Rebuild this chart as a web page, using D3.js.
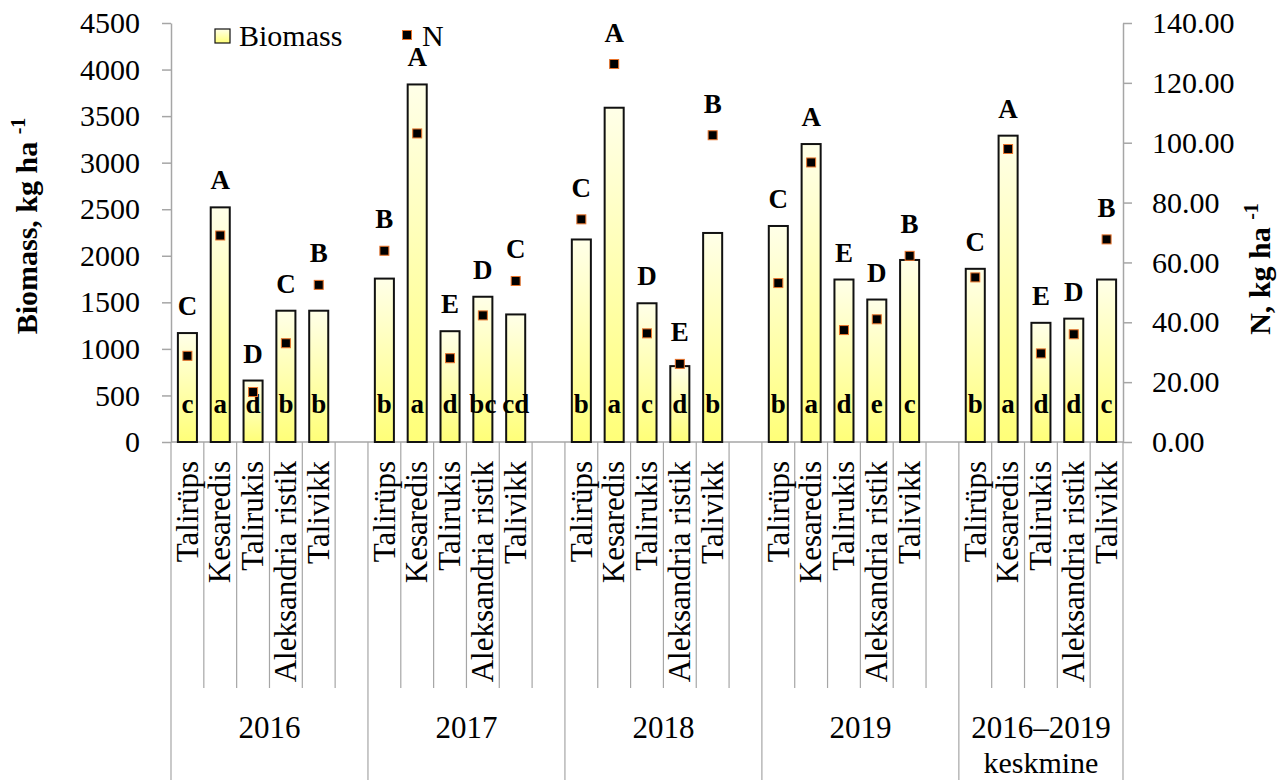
<!DOCTYPE html>
<html>
<head>
<meta charset="utf-8">
<script src="https://cdn.jsdelivr.net/npm/d3@7"></script>
<style>
    body { margin: 0; background: #fff; }
    svg text { font-family: "Liberation Serif", "Times New Roman", serif; fill: #000; }
</style>
</head>
<body>
<div id="chart"></div>
<script>
// Data
const groups = ['2016', '2017', '2018', '2019', '2016–2019'];
const groupSubLabels = ['', '', '', '', 'keskmine'];
const crops = ['Talirüps', 'Kesaredis', 'Talirukis', 'Aleksandria ristik', 'Talivikk'];

const biomass2016 = [1170, 2520, 660, 1410, 1410];
const biomass2017 = [1755, 3840, 1190, 1560, 1370];
const biomass2018 = [2175, 3590, 1490, 815, 2245];
const biomass2019 = [2320, 3200, 1745, 1530, 1955];
const biomassMean = [1860, 3290, 1280, 1325, 1745];

const n2016 = [28.8, 69.0, 16.7, 33.0, 52.5];
const n2017 = [63.9, 103.1, 28.0, 42.3, 53.8];
const n2018 = [74.4, 126.3, 36.3, 26.1, 102.5];
const n2019 = [53.1, 93.4, 37.4, 41.0, 62.2];
const nMean = [55.0, 97.9, 29.6, 36.0, 67.7];

const upperLetters = [
    ['C', 'A', 'D', 'C', 'B'],
    ['B', 'A', 'E', 'D', 'C'],
    ['C', 'A', 'D', 'E', 'B'],
    ['C', 'A', 'E', 'D', 'B'],
    ['C', 'A', 'E', 'D', 'B']
];
const lowerLetters = [
    ['c', 'a', 'd', 'b', 'b'],
    ['b', 'a', 'd', 'bc', 'cd'],
    ['b', 'a', 'c', 'd', 'b'],
    ['b', 'a', 'd', 'e', 'c'],
    ['b', 'a', 'd', 'd', 'c']
];

const biomassTicks = [0, 500, 1000, 1500, 2000, 2500, 3000, 3500, 4000, 4500];
const nTicks = [0, 20, 40, 60, 80, 100, 120, 140];

const biomassByGroup = [biomass2016, biomass2017, biomass2018, biomass2019, biomassMean];
const nByGroup = [n2016, n2017, n2018, n2019, nMean];

// Layout
const width = 1281, height = 780;
const plot = {left: 171, right: 1123, top: 23, bottom: 442};
const axisColor = '#a6a6a6';
const serif = '"Liberation Serif", "Times New Roman", serif';

// Build slots (5 crops per group, one empty slot between groups)
const slots = [];
const rows = [];
groups.forEach((g, gi) => {
    crops.forEach((c, ci) => {
        const key = gi + '-' + ci;
        slots.push(key);
        rows.push({
            key: key, group: gi, crop: c,
            biomass: biomassByGroup[gi][ci],
            n: nByGroup[gi][ci],
            upper: upperLetters[gi][ci],
            lower: lowerLetters[gi][ci]
        });
    });
    if (gi < groups.length - 1) slots.push(gi + '-gap');
});

const svg = d3.select('#chart')
    .append('svg')
    .attr('width', width)
    .attr('height', height)
    .style('font-family', serif);

const defs = svg.append('defs');
const grad = defs.append('linearGradient')
    .attr('id', 'barGrad')
    .attr('x1', 0).attr('y1', 0).attr('x2', 0).attr('y2', 1);
grad.append('stop').attr('offset', '0%').attr('stop-color', '#ffffe8');
grad.append('stop').attr('offset', '100%').attr('stop-color', '#ffff78');

const x = d3.scaleBand()
    .domain(slots)
    .range([plot.left, plot.right])
    .paddingInner(0)
    .paddingOuter(0);

const yLeft = d3.scaleLinear().domain([0, 4500]).range([plot.bottom, plot.top]);
const yRight = d3.scaleLinear().domain([0, 140]).range([plot.bottom, plot.top]);

const step = x.step();
const barW = step * 0.58;

// Left axis
const gLeft = svg.append('g')
    .attr('transform', `translate(${plot.left},0)`)
    .call(d3.axisLeft(yLeft).tickValues(biomassTicks).tickSize(9).tickSizeOuter(0).tickPadding(22)
        .tickFormat(d3.format('d')));

// Right axis
const gRight = svg.append('g')
    .attr('transform', `translate(${plot.right},0)`)
    .call(d3.axisRight(yRight).tickValues(nTicks).tickSize(9).tickSizeOuter(0).tickPadding(20)
        .tickFormat(d3.format('.2f')));

[gLeft, gRight].forEach(g => {
    g.attr('font-family', serif).attr('font-size', 30);
    g.selectAll('path, line').attr('stroke', axisColor).attr('stroke-width', 1.5);
    g.selectAll('text').attr('fill', '#000').style('font-family', serif).style('font-size', '30px');
});

// Bottom axis line
svg.append('line')
    .attr('x1', plot.left).attr('x2', plot.right)
    .attr('y1', plot.bottom).attr('y2', plot.bottom)
    .attr('stroke', axisColor).attr('stroke-width', 1.5);

// Category boundary lines
const groupStarts = groups.map((g, gi) => x(gi + '-0'));
const groupEnds = groups.map((g, gi) => gi < groups.length - 1 ? x(gi + '-gap') + step : plot.right);
const boundaries = slots.map(s => x(s)).concat([plot.right]);
svg.append('g')
    .selectAll('line')
    .data(boundaries)
    .enter()
    .append('line')
    .attr('x1', d => d).attr('x2', d => d)
    .attr('y1', plot.bottom)
    .attr('y2', d => (groupStarts.some(v => Math.abs(v - d) < 0.5) || Math.abs(d - plot.right) < 0.5) ? height : 688)
    .attr('stroke', axisColor)
    .attr('stroke-width', 1.2);

// Category labels
svg.append('g')
    .selectAll('text')
    .data(rows)
    .enter()
    .append('text')
    .attr('transform', d => `translate(${x(d.key) + step / 2},461) rotate(-90)`)
    .attr('text-anchor', 'end')
    .attr('dy', '0.33em')
    .style('font-size', '31px')
    .text(d => d.crop);

// Group labels
const gLabels = svg.append('g');
groups.forEach((g, gi) => {
    const cx = (groupStarts[gi] + groupEnds[gi]) / 2;
    gLabels.append('text')
        .attr('x', cx).attr('y', 738)
        .attr('text-anchor', 'middle')
        .style('font-size', '31px')
        .text(g);
    if (groupSubLabels[gi]) {
        gLabels.append('text')
            .attr('x', cx).attr('y', 773)
            .attr('text-anchor', 'middle')
            .style('font-size', '30px')
            .text(groupSubLabels[gi]);
    }
});

// Bars
svg.append('g')
    .selectAll('rect')
    .data(rows)
    .enter()
    .append('rect')
    .attr('x', d => x(d.key) + (step - barW) / 2)
    .attr('y', d => yLeft(d.biomass))
    .attr('width', barW)
    .attr('height', d => yLeft(0) - yLeft(d.biomass))
    .attr('fill', 'url(#barGrad)')
    .attr('stroke', '#111')
    .attr('stroke-width', 2);

// Lowercase letters inside bars
svg.append('g')
    .selectAll('text')
    .data(rows)
    .enter()
    .append('text')
    .attr('x', d => x(d.key) + step / 2)
    .attr('y', yLeft(0) - 29)
    .attr('text-anchor', 'middle')
    .style('font-size', '27px')
    .style('font-weight', 'bold')
    .text(d => d.lower);

// N markers
const mk = 9;
svg.append('g')
    .selectAll('rect')
    .data(rows)
    .enter()
    .append('rect')
    .attr('x', d => x(d.key) + step / 2 - mk / 2)
    .attr('y', d => yRight(d.n) - mk / 2)
    .attr('width', mk)
    .attr('height', mk)
    .attr('fill', '#000')
    .attr('stroke', '#e8732a')
    .attr('stroke-width', 1);

// Uppercase letters above bars / markers
svg.append('g')
    .selectAll('text')
    .data(rows)
    .enter()
    .append('text')
    .attr('x', d => x(d.key) + step / 2)
    .attr('y', d => Math.min(yLeft(d.biomass), yRight(d.n) - mk / 2) - 18)
    .attr('text-anchor', 'middle')
    .style('font-size', '27px')
    .style('font-weight', 'bold')
    .text(d => d.upper);

// Axis titles
const leftTitle = svg.append('text')
    .attr('transform', 'translate(37,226) rotate(-90)')
    .attr('text-anchor', 'middle')
    .style('font-size', '30px')
    .style('font-weight', 'bold');
leftTitle.append('tspan').text('Biomass, kg  ha ');
leftTitle.append('tspan').attr('dy', -12).style('font-size', '20px').text('-1');

const rightTitle = svg.append('text')
    .attr('transform', 'translate(1270,269) rotate(-90)')
    .attr('text-anchor', 'middle')
    .style('font-size', '30px')
    .style('font-weight', 'bold');
rightTitle.append('tspan').text('N, kg  ha ');
rightTitle.append('tspan').attr('dy', -12).style('font-size', '20px').text('-1');

// Legend
const legend = svg.append('g');
legend.append('rect')
    .attr('x', 215).attr('y', 29).attr('width', 15).attr('height', 14)
    .attr('fill', 'url(#barGrad)')
    .attr('stroke', '#111').attr('stroke-width', 1.2);
legend.append('text')
    .attr('x', 239).attr('y', 46)
    .style('font-size', '30px')
    .text('Biomass');
legend.append('rect')
    .attr('x', 407 - mk / 2).attr('y', 35 - mk / 2).attr('width', mk).attr('height', mk)
    .attr('fill', '#000').attr('stroke', '#e8732a').attr('stroke-width', 1);
legend.append('text')
    .attr('x', 422).attr('y', 46)
    .style('font-size', '30px')
    .text('N');
</script>
</body>
</html>
